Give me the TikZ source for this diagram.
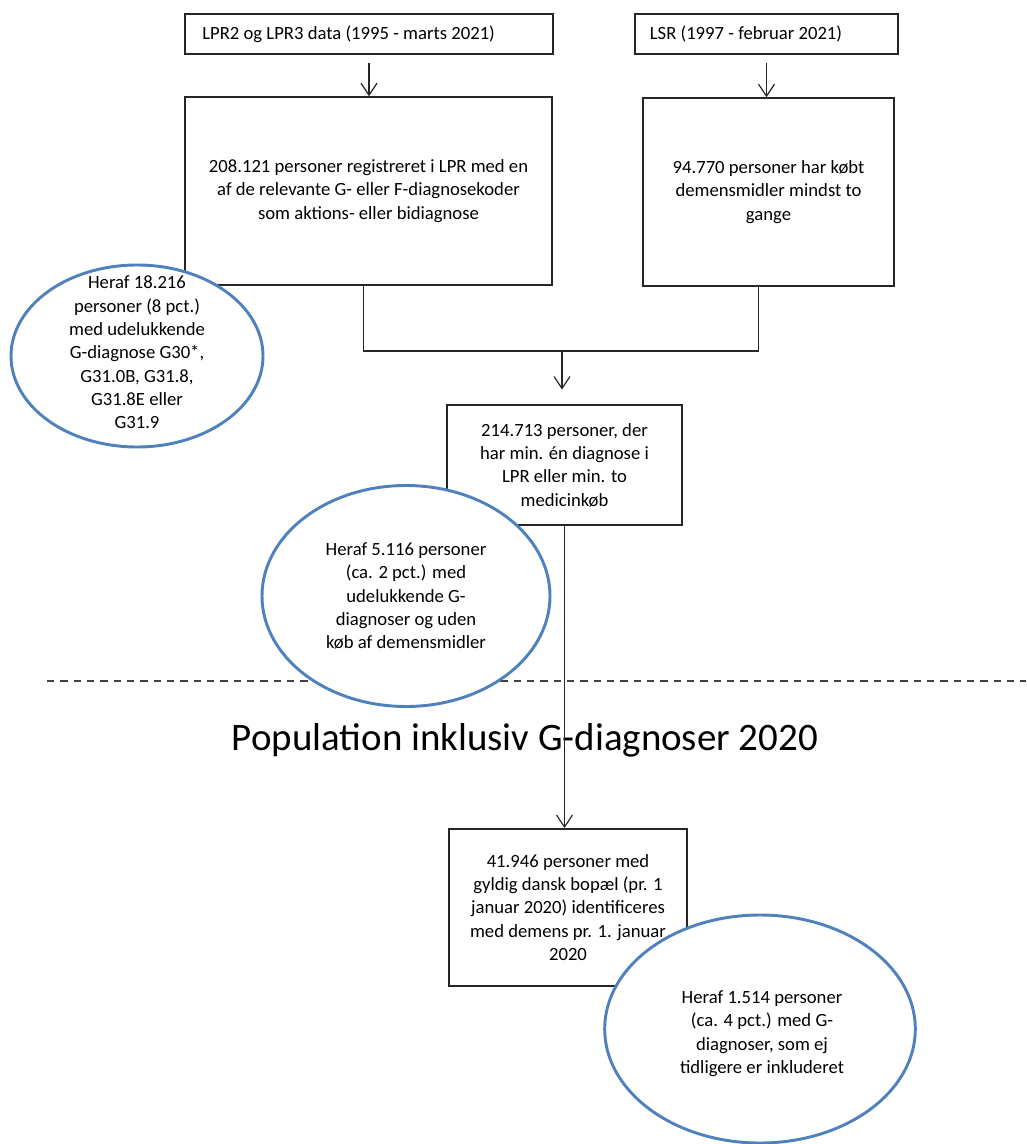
\documentclass[tikz,border=0pt]{standalone}
\usepackage{fontspec}
\setmainfont{Carlito}
\usetikzlibrary{arrows.meta,shapes.geometric}
\definecolor{ovalblue}{RGB}{79,129,189}
\begin{document}
\begin{tikzpicture}[x=0.75pt,y=-0.75pt,
    every node/.style={font=\fontsize{14}{17.5}\selectfont},
    box/.style={draw=black!85,line width=1.1pt,rectangle,inner sep=0pt,align=center},
    src/.style={box,minimum height=30pt},
    oval/.style={ellipse,draw=ovalblue,line width=2.2pt,fill=white,inner sep=0pt},
    link/.style={draw=black!85,line width=0.9pt},
    arr/.style={link,-{Straight Barb[length=9pt,width=12pt]}}]
    \useasboundingbox (0,0) rectangle (1026,1144);
    \node[src,inner xsep=13pt] (lpr) at (369,34) {\makebox[250pt][l]{LPR2 og LPR3 data (1995 - marts 2021)}};
    \node[src,inner xsep=11pt] (lsr) at (766.5,34) {\makebox[175pt][l]{LSR (1997 - februar 2021)}};
    \node[box,minimum width=275pt,minimum height=141pt] (lprpers) at (368.5,191)
        {208.121 personer registreret i LPR med en\\af de relevante G- eller F-diagnosekoder\\som aktions- eller bidiagnose};
    \node[box,minimum width=188pt,minimum height=141pt] (lsrpers) at (768.5,192)
        {94.770 personer har købt\\demensmidler mindst to\\gange};
    \node[box,minimum width=176pt,minimum height=90pt] (union) at (564.5,465)
        {214.713 personer, der\\har min. én diagnose i\\LPR eller min. to\\medicinkøb};
    \node[box,minimum width=178.5pt,minimum height=118pt] (pop2020) at (568,907.5)
        {41.946 personer med\\gyldig dansk bopæl (pr. 1\\januar 2020) identificeres\\med demens pr. 1. januar\\2020};
    \coordinate (join) at (562,351);
    \coordinate (cutl) at (47,681);
    \coordinate (cutr) at (1026,681);
    \draw[arr,shorten <=6pt] (lpr.south) -- (lpr.south |- lprpers.north);
    \draw[arr,shorten <=6pt] (lsr.south) -- (lsr.south |- lsrpers.north);
    \draw[link] ([xshift=-4pt]lprpers.south) |- (join) -| ([xshift=-7.5pt]lsrpers.south);
    \draw[arr,shorten >=11pt] (join) -- (join |- union.north);
    \draw[black!75,line width=1.1pt,dash pattern=on 5.5pt off 4.5pt] (cutl) -- (cutr);
    \node[font=\fontsize{29.2}{34}\selectfont] (poptitle) at (525,740) {Population inklusiv G-diagnoser 2020};
    \draw[arr] (union.south) -- (union.south |- pop2020.north);
    \node[oval,minimum width=189pt,minimum height=136.5pt] (excl1) at (137,356) {};
    \node[align=center] (excl1txt) at ([yshift=2.6pt]excl1) {Heraf 18.216\\personer (8 pct.)\\med udelukkende\\G-diagnose G30*,\\G31.0B, G31.8,\\G31.8E eller\\G31.9};
    \node[oval,minimum width=216pt,minimum height=165.75pt] (excl2) at (406,596) {};
    \node[align=center] (excl2txt) at (excl2) {Heraf 5.116 personer\\(ca. 2 pct.) med\\udelukkende G-\\diagnoser og uden\\køb af demensmidler};
    \node[oval,minimum width=233pt,minimum height=171pt] (extra) at (760,1029) {};
    \node[align=center] (extratxt) at ([xshift=1.5pt,yshift=-3.4pt]extra) {Heraf 1.514 personer\\(ca. 4 pct.) med G-\\diagnoser, som ej\\tidligere er inkluderet};
\end{tikzpicture}
\end{document}
